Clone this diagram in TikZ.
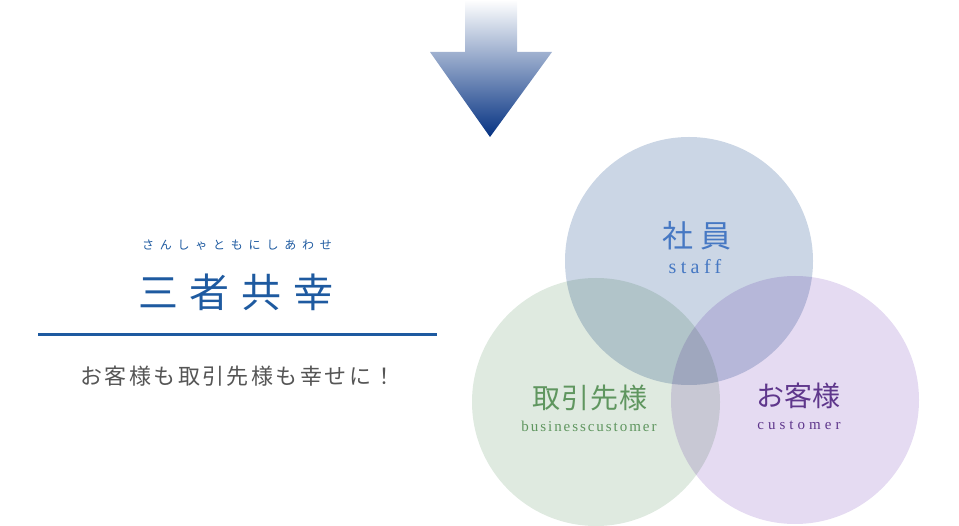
\documentclass[tikz,border=0pt]{standalone}
\usepackage{fontspec}
\setmainfont{Liberation Serif}
\newfontfamily\jpfont{Noto Sans CJK JP}
\definecolor{arrowblue}{RGB}{5,50,130}
\definecolor{titleblue}{RGB}{30,90,160}
\definecolor{staffblue}{RGB}{70,120,195}
\definecolor{bizgreen}{RGB}{95,150,95}
\definecolor{custpurple}{RGB}{95,55,140}
\definecolor{textgray}{RGB}{85,85,85}
\definecolor{stafffill}{RGB}{203,214,229}
\definecolor{bizfill}{RGB}{223,234,224}
\definecolor{custfill}{RGB}{229,219,242}
\usetikzlibrary{positioning}

\begin{document}
\begin{tikzpicture}[x=1pt, y=-1pt,
  ring/.style={circle, minimum size=248pt, inner sep=0pt},
  ruby/.style={font=\jpfont\fontsize{12}{12}\selectfont\addfontfeature{LetterSpace=48}, text=titleblue},
  title/.style={font=\jpfont\fontsize{40}{40}\selectfont\addfontfeature{LetterSpace=30}, text=titleblue},
  slogan/.style={font=\jpfont\fontsize{22}{22}\selectfont\addfontfeature{LetterSpace=11}, text=textgray},
  jplabel/.style={font=\jpfont\fontsize{28}{28}\selectfont\addfontfeature{LetterSpace=#1}},
  enlabel/.style={font=\fontsize{15}{15}\selectfont\addfontfeature{LetterSpace=#1}},
  staffjp/.style={font=\jpfont\fontsize{31}{31}\selectfont\addfontfeature{LetterSpace=20}, text=staffblue},
  staffen/.style={font=\fontsize{20}{20}\selectfont\addfontfeature{LetterSpace=22}, text=staffblue}
]
\useasboundingbox (0,0) rectangle (959,526);

% Arrow from above
\shade[top color=white, middle color=arrowblue!42, bottom color=arrowblue]
  (465,0) -- (517,0) -- (517,52) -- (552,52) -- (490,137) -- (430,52) -- (465,52) -- cycle;

% Heading block
\node[ruby]   (RB) at (237,245) {さんしゃともにしあわせ};
\node[title]  (TT) at (236,292) {三者共幸};
\coordinate (L1) at (38,335);
\coordinate (L2) at (437,335);
\draw[titleblue, line width=3pt] (L1) -- (L2);
\node[slogan] (SL) at (238,376) {お客様も取引先様も幸せに！};

% Three circles
\begin{scope}[blend group=multiply]
\node[ring, fill=bizfill]   (BC) at (596,402) {};
\node[ring, fill=custfill]  (CU) at (795,400) {};
\node[ring, fill=stafffill] (ST) at (689,261) {};
\end{scope}

% Circle labels
\node[staffjp] (STj) at (697,236) {社員};
\node[staffen] (STe) at (695,267) {staff};
\node[jplabel=4, text=bizgreen] (BCj) at (590,398) {取引先様};
\node[enlabel=13, text=bizgreen] (BCe) at (589,426) {businesscustomer};
\node[jplabel=0, text=custpurple] (CUj) at (798,396) {お客様};
\node[enlabel=27, text=custpurple] (CUe) at (799,425) {customer};

\end{tikzpicture}
\end{document}
